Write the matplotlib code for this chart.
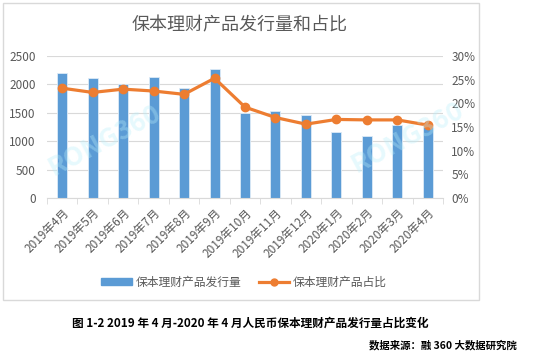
import matplotlib
matplotlib.use("Agg")
import matplotlib.pyplot as plt
from matplotlib.patches import Rectangle
from matplotlib.lines import Line2D
from matplotlib.ticker import FuncFormatter, MultipleLocator

plt.rcParams['font.family'] = ['Noto Sans CJK SC', 'DejaVu Sans']

# 数据
months = ['2019年4月', '2019年5月', '2019年6月', '2019年7月', '2019年8月', '2019年9月',
          '2019年10月', '2019年11月', '2019年12月', '2020年1月', '2020年2月',
          '2020年3月', '2020年4月']
issue_count = [2200, 2120, 2010, 2130, 1940, 2270, 1490, 1540, 1470, 1170, 1100, 1280, 1245]
issue_share = [23.2, 22.3, 23.0, 22.6, 21.9, 25.3, 19.2, 17.0, 15.6, 16.6, 16.5, 16.5, 15.4]

bar_color = '#5B9BD5'
line_color = '#ED7D31'
text_color = '#595959'
grid_color = '#D9D9D9'

fig = plt.figure(figsize=(5.44, 3.55), dpi=100)
ax = fig.add_axes([47 / 544, 1 - 198 / 355, 396 / 544, 142 / 355])
ax2 = ax.twinx()

x = range(len(months))
ax.bar(x, issue_count, width=0.33, color=bar_color, edgecolor='#DDEBF7', linewidth=0.6, zorder=2)
ax2.plot(x, issue_share, color=line_color, linewidth=2.3, marker='o', markersize=6, zorder=3)

ax.set_xlim(-0.5, len(months) - 0.5)
ax.set_ylim(0, 2500)
ax2.set_ylim(0, 30)
ax.yaxis.set_major_locator(MultipleLocator(500))
ax2.yaxis.set_major_locator(MultipleLocator(5))
ax2.yaxis.set_major_formatter(FuncFormatter(lambda v, p: f'{int(v)}%'))

ax.grid(axis='y', color=grid_color, linewidth=0.8, zorder=0)
ax.set_axisbelow(True)
for a in (ax, ax2):
    for s in a.spines.values():
        s.set_visible(False)
ax.spines['bottom'].set_visible(True)
ax.spines['bottom'].set_color(grid_color)

ax.set_xticks(list(x))
ax.set_xticklabels(months, rotation=45, ha='right', rotation_mode='anchor',
                   fontsize=8.5, color=text_color)
ax.set_xticks([i - 0.5 for i in range(len(months) + 1)], minor=True)
ax.tick_params(axis='x', which='major', length=0, pad=6)
ax.tick_params(axis='x', which='minor', length=4, color=grid_color)
ax.tick_params(axis='y', length=0, labelsize=8.5, labelcolor=text_color, pad=8)
ax2.tick_params(axis='y', length=0, labelsize=8.5, labelcolor=text_color, pad=6)

# 标题
fig.text(240 / 544, 1 - 25 / 355, '保本理财产品发行量和占比', ha='center', va='center',
         fontsize=13, color=text_color)

# 图例
handles = [Rectangle((0, 0), 1, 1, color=bar_color),
           Line2D([], [], color=line_color, linewidth=2.3, marker='o', markersize=5)]
fig.legend(handles, ['保本理财产品发行量', '保本理财产品占比'], loc='center',
           bbox_to_anchor=(244 / 544, 1 - 282 / 355), ncol=2, frameon=False,
           fontsize=8.5, labelcolor=text_color, handlelength=2.6, handleheight=0.6,
           columnspacing=1.5, handletextpad=0.3)

# 水印
for cx, cy in [(105, 140), (408, 137)]:
    fig.text(cx / 544, 1 - cy / 355, 'RONG360', ha='center', va='center', rotation=28,
             fontsize=19, fontweight='bold', color='#B8EEFA', alpha=0.35, zorder=5)

# 外框
fig.patches.append(Rectangle((3 / 544, 1 - 300 / 355), 476 / 544, 297 / 355,
                             transform=fig.transFigure, fill=False,
                             edgecolor='#D9D9D9', linewidth=1))

# 图注和来源
fig.text(250 / 544, 1 - 323 / 355, '图 1-2 2019 年 4 月-2020 年 4 月人民币保本理财产品发行量占比变化',
         ha='center', va='center', fontsize=8.4, fontweight='bold', color='#000000')
fig.text(517 / 544, 1 - 345 / 355, '数据来源：融 360 大数据研究院', ha='right', va='center',
         fontsize=7.5, fontweight='bold', color='#000000')

fig.savefig('out.png', dpi=100)
